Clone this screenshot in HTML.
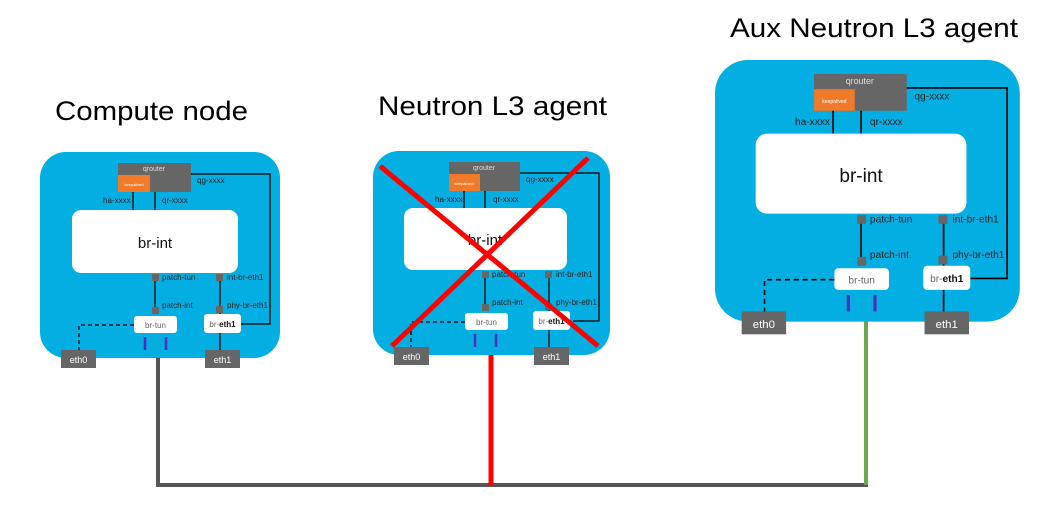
<!DOCTYPE html>
<html><head><meta charset="utf-8"><style>
html,body{margin:0;padding:0;background:#fff;}
svg{display:block;font-family:"Liberation Sans",sans-serif;}
.l{font-size:8px;fill:#222;}
</style></head><body>
<svg width="1059" height="522" viewBox="0 0 1059 522" xmlns="http://www.w3.org/2000/svg">
<text x="55" y="120" font-size="27" textLength="193" lengthAdjust="spacingAndGlyphs">Compute node</text>
<text x="378" y="115" font-size="27" textLength="229" lengthAdjust="spacingAndGlyphs">Neutron L3 agent</text>
<text x="730" y="37" font-size="27" textLength="288" lengthAdjust="spacingAndGlyphs">Aux Neutron L3 agent</text>

<line x1="158" y1="358" x2="158" y2="485" stroke="#555" stroke-width="4"/>
<line x1="156" y1="485" x2="868" y2="485" stroke="#555" stroke-width="4"/>
<line x1="491" y1="355" x2="491" y2="485" stroke="#f00" stroke-width="5"/>
<line x1="866" y1="320" x2="866" y2="485" stroke="#6aa84f" stroke-width="4"/>

<g>
<rect x="40" y="152" width="240" height="206" rx="26" fill="#03aee2"/>
<rect x="118" y="163" width="73" height="29" fill="#666"/>
<rect x="118" y="175" width="32" height="17" fill="#f07a2a"/>
<text x="154" y="171" font-size="7" fill="#ddd" text-anchor="middle">qrouter</text>
<text x="134" y="186" font-size="4" fill="#fff" text-anchor="middle">keepalived</text>
<line x1="133" y1="192" x2="133" y2="210" stroke="#000" stroke-width="1.3"/>
<line x1="155" y1="192" x2="155" y2="210" stroke="#000" stroke-width="1.3"/>
<text x="103" y="203" class="l">ha-xxxx</text>
<text x="162" y="203" class="l">qr-xxxx</text>
<polyline points="191,174 270,174 270,324 241,324" fill="none" stroke="#000" stroke-width="1.3"/>
<text x="197" y="183" class="l">qg-xxxx</text>
<rect x="72" y="210" width="166" height="63" rx="9" fill="#fff"/>
<text x="155" y="248" font-size="15" text-anchor="middle" fill="#111">br-int</text>
<line x1="155" y1="278" x2="155" y2="312" stroke="#000" stroke-width="1.3"/>
<rect x="152" y="274" width="7" height="7" fill="#666"/>
<rect x="152" y="307" width="7" height="7" fill="#666"/>
<text x="162" y="280" class="l">patch-tun</text>
<text x="162" y="308" class="l">patch-int</text>
<line x1="220" y1="278" x2="220" y2="352" stroke="#000" stroke-width="1.3"/>
<rect x="216" y="274" width="7" height="7" fill="#666"/>
<rect x="216" y="306" width="7" height="7" fill="#666"/>
<text x="227" y="280" class="l">int-br-eth1</text>
<text x="227" y="308" class="l">phy-br-eth1</text>
<rect x="134" y="316" width="43" height="17" rx="3" fill="#fff"/>
<text x="155.5" y="328" font-size="8" text-anchor="middle" fill="#666">br-tun</text>
<rect x="204" y="314" width="37" height="19" rx="3" fill="#fff"/>
<text x="222.5" y="327" font-size="8" text-anchor="middle" fill="#666">br-<tspan fill="#111" font-weight="bold">eth1</tspan></text>
<polyline points="134,325 79,325 79,350" fill="none" stroke="#000" stroke-width="1.3" stroke-dasharray="4,3"/>
<line x1="145" y1="337" x2="145" y2="350" stroke="#4b2fbf" stroke-width="2.5"/>
<line x1="166" y1="337" x2="166" y2="350" stroke="#4b2fbf" stroke-width="2.5"/>
<rect x="61" y="350" width="35" height="18" fill="#666"/>
<text x="78.5" y="363" font-size="9" fill="#fff" text-anchor="middle">eth0</text>
<rect x="205" y="350" width="35" height="18" fill="#666"/>
<text x="222.5" y="363" font-size="9" fill="#fff" text-anchor="middle">eth1</text>
</g>

<g transform="translate(333,-1)">
<rect x="40" y="152" width="237" height="204" rx="26" fill="#03aee2"/>
<rect x="116" y="163" width="71" height="29" fill="#666"/>
<rect x="116" y="175" width="31" height="17" fill="#f07a2a"/>
<text x="151" y="171" font-size="7" fill="#ddd" text-anchor="middle">qrouter</text>
<text x="131" y="186" font-size="4" fill="#fff" text-anchor="middle">keepalived</text>
<line x1="131" y1="192" x2="131" y2="210" stroke="#000" stroke-width="1.3"/>
<line x1="152" y1="192" x2="152" y2="210" stroke="#000" stroke-width="1.3"/>
<text x="102" y="203" class="l">ha-xxxx</text>
<text x="160" y="203" class="l">qr-xxxx</text>
<polyline points="187,174 266,174 266,322 240,322" fill="none" stroke="#000" stroke-width="1.3"/>
<text x="193" y="183" class="l">qg-xxxx</text>
<rect x="71" y="209" width="163" height="62" rx="9" fill="#fff"/>
<text x="152" y="246" font-size="15" text-anchor="middle" fill="#111">br-int</text>
<line x1="152" y1="276" x2="152" y2="310" stroke="#000" stroke-width="1.3"/>
<rect x="149" y="272" width="7" height="7" fill="#666"/>
<rect x="149" y="305" width="7" height="7" fill="#666"/>
<text x="159" y="278" class="l">patch-tun</text>
<text x="159" y="306" class="l">patch-int</text>
<line x1="216" y1="276" x2="216" y2="350" stroke="#000" stroke-width="1.3"/>
<rect x="212" y="272" width="7" height="7" fill="#666"/>
<rect x="212" y="304" width="7" height="7" fill="#666"/>
<text x="223" y="278" class="l">int-br-eth1</text>
<text x="223" y="306" class="l">phy-br-eth1</text>
<rect x="132" y="314" width="43" height="17" rx="3" fill="#fff"/>
<text x="153.5" y="326" font-size="8" text-anchor="middle" fill="#666">br-tun</text>
<rect x="200" y="312" width="37" height="19" rx="3" fill="#fff"/>
<text x="218.5" y="325" font-size="8" text-anchor="middle" fill="#666">br-<tspan fill="#111" font-weight="bold">eth1</tspan></text>
<polyline points="132,323 78,323 78,348" fill="none" stroke="#000" stroke-width="1.3" stroke-dasharray="4,3"/>
<line x1="142" y1="335" x2="142" y2="348" stroke="#4b2fbf" stroke-width="2.5"/>
<line x1="163" y1="335" x2="163" y2="348" stroke="#4b2fbf" stroke-width="2.5"/>
<rect x="61" y="348" width="35" height="18" fill="#666"/>
<text x="78.5" y="361" font-size="9" fill="#fff" text-anchor="middle">eth0</text>
<rect x="201" y="348" width="35" height="18" fill="#666"/>
<text x="218.5" y="361" font-size="9" fill="#fff" text-anchor="middle">eth1</text>
</g>
<line x1="380" y1="166" x2="598" y2="346" stroke="#f00" stroke-width="5"/>
<line x1="588" y1="158" x2="392" y2="346" stroke="#f00" stroke-width="5"/>

<g transform="translate(715,60) scale(1.27) translate(-40,-152)">
<rect x="40" y="152" width="240" height="206" rx="26" fill="#03aee2"/>
<rect x="118" y="163" width="73" height="29" fill="#666"/>
<rect x="118" y="175" width="32" height="17" fill="#f07a2a"/>
<text x="154" y="171" font-size="7" fill="#ddd" text-anchor="middle">qrouter</text>
<text x="134" y="186" font-size="4" fill="#fff" text-anchor="middle">keepalived</text>
<line x1="133" y1="192" x2="133" y2="210" stroke="#000" stroke-width="1.3"/>
<line x1="155" y1="192" x2="155" y2="210" stroke="#000" stroke-width="1.3"/>
<text x="103" y="203" class="l">ha-xxxx</text>
<text x="162" y="203" class="l">qr-xxxx</text>
<polyline points="191,174 270,174 270,324 241,324" fill="none" stroke="#000" stroke-width="1.3"/>
<text x="197" y="183" class="l">qg-xxxx</text>
<rect x="72" y="210" width="166" height="63" rx="9" fill="#fff"/>
<text x="155" y="248" font-size="15" text-anchor="middle" fill="#111">br-int</text>
<line x1="155" y1="278" x2="155" y2="312" stroke="#000" stroke-width="1.3"/>
<rect x="152" y="274" width="7" height="7" fill="#666"/>
<rect x="152" y="307" width="7" height="7" fill="#666"/>
<text x="162" y="280" class="l">patch-tun</text>
<text x="162" y="308" class="l">patch-int</text>
<line x1="220" y1="278" x2="220" y2="352" stroke="#000" stroke-width="1.3"/>
<rect x="216" y="274" width="7" height="7" fill="#666"/>
<rect x="216" y="306" width="7" height="7" fill="#666"/>
<text x="227" y="280" class="l">int-br-eth1</text>
<text x="227" y="308" class="l">phy-br-eth1</text>
<rect x="134" y="316" width="43" height="17" rx="3" fill="#fff"/>
<text x="155.5" y="328" font-size="8" text-anchor="middle" fill="#666">br-tun</text>
<rect x="204" y="314" width="37" height="19" rx="3" fill="#fff"/>
<text x="222.5" y="327" font-size="8" text-anchor="middle" fill="#666">br-<tspan fill="#111" font-weight="bold">eth1</tspan></text>
<polyline points="134,325 79,325 79,350" fill="none" stroke="#000" stroke-width="1.3" stroke-dasharray="4,3"/>
<line x1="145" y1="337" x2="145" y2="350" stroke="#4b2fbf" stroke-width="2.5"/>
<line x1="166" y1="337" x2="166" y2="350" stroke="#4b2fbf" stroke-width="2.5"/>
<rect x="61" y="350" width="35" height="18" fill="#666"/>
<text x="78.5" y="363" font-size="9" fill="#fff" text-anchor="middle">eth0</text>
<rect x="205" y="350" width="35" height="18" fill="#666"/>
<text x="222.5" y="363" font-size="9" fill="#fff" text-anchor="middle">eth1</text>
</g>
</svg>
</body></html>
